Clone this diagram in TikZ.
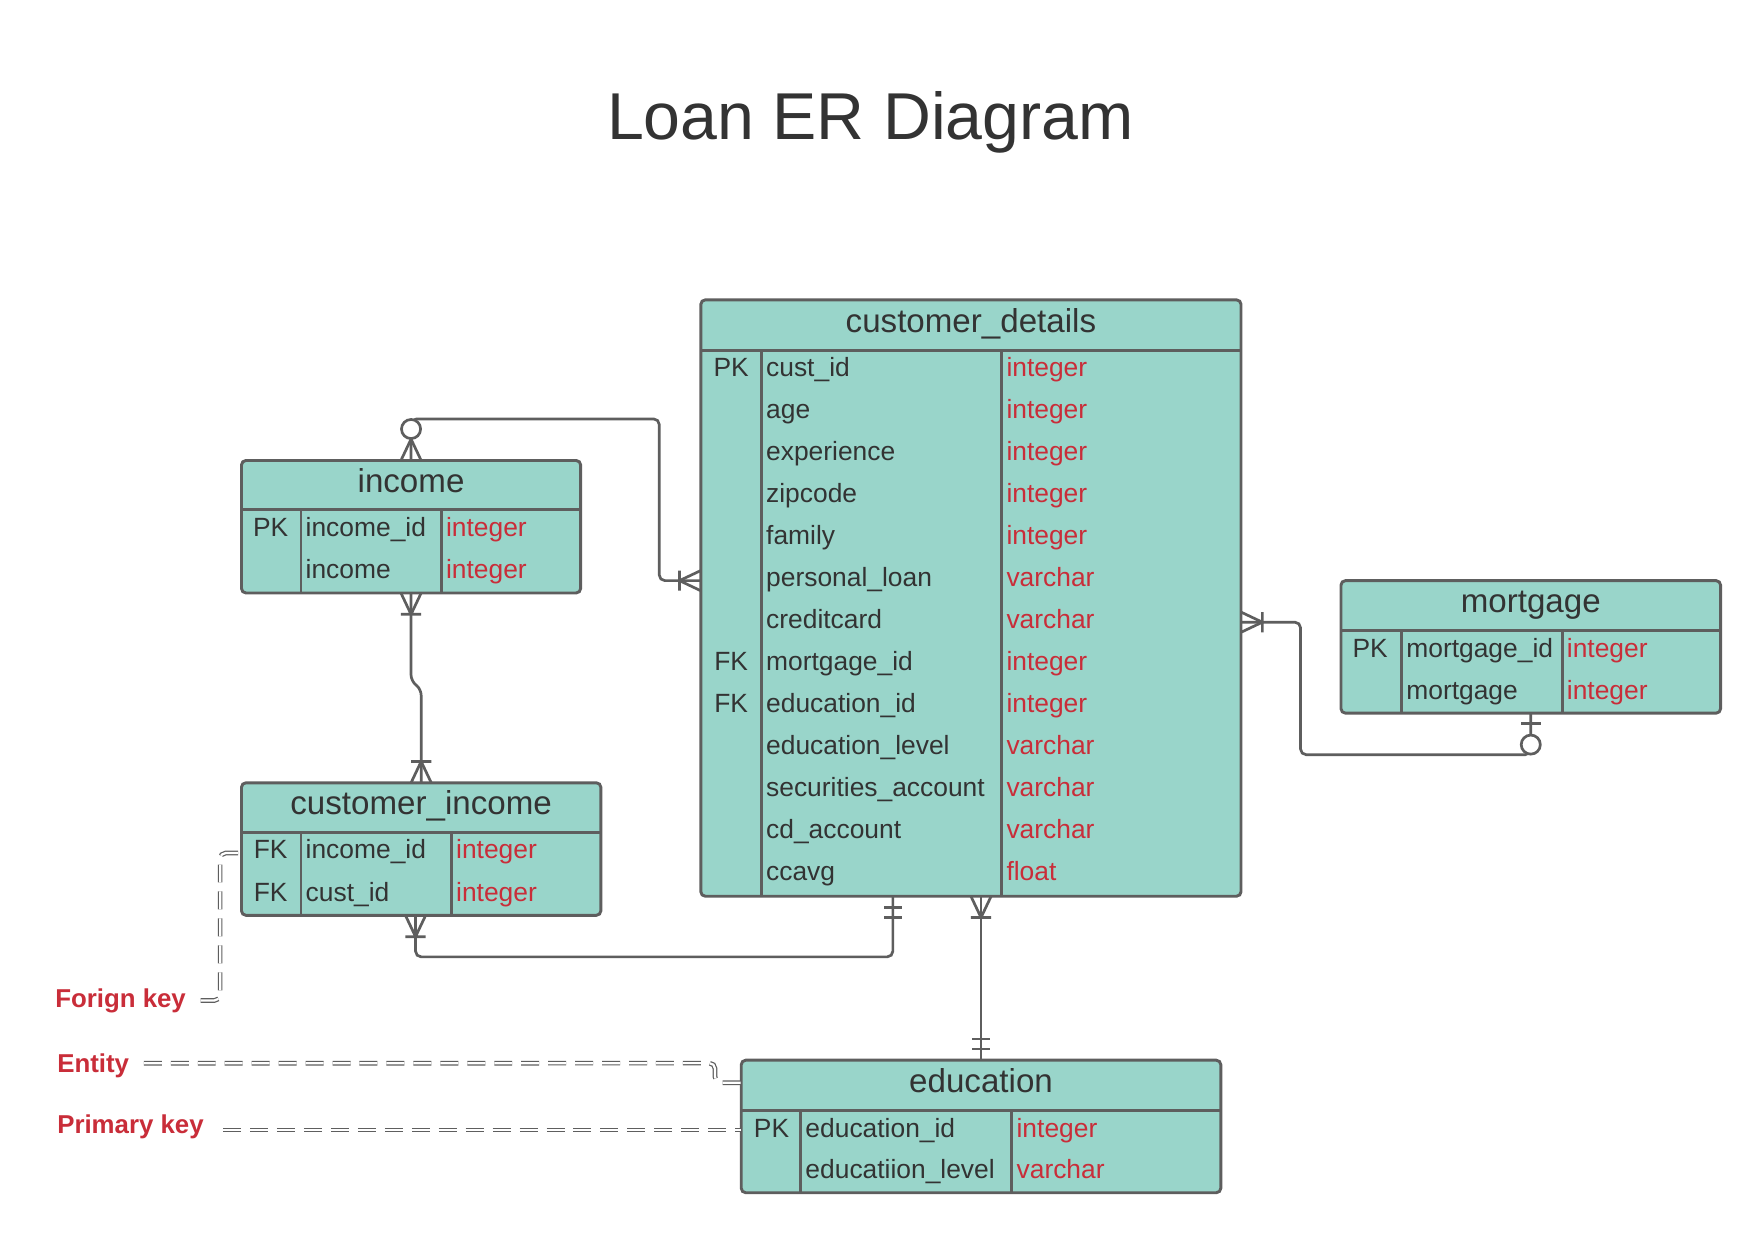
\documentclass[tikz,border=0pt]{standalone}
\usepackage{fontspec}
\setmainfont{Liberation Sans}
\usetikzlibrary{calc}

\definecolor{tealfill}{HTML}{99D5CA}
\definecolor{edgegray}{HTML}{5E5E5E}
\definecolor{typered}{HTML}{C92D39}
\definecolor{textgray}{HTML}{333333}

\begin{document}
\begin{tikzpicture}[x=1pt,y=-1pt,
  entity/.style={draw=edgegray,fill=tealfill,line width=2.6pt,rounded corners=4pt,
    anchor=north west,inner sep=0pt,outer sep=0pt},
  grid/.style={draw=edgegray,line width=2.6pt},
  head/.style={font=\fontsize{29.5}{30}\selectfont,text=textgray,anchor=base,inner sep=0pt},
  field/.style={font=\fontsize{23.5}{24}\selectfont,text=textgray,anchor=base west,inner sep=0pt},
  ftype/.style={field,text=typered},
  fkey/.style={font=\fontsize{23.5}{24}\selectfont,text=textgray,anchor=base,inner sep=0pt},
  note/.style={font=\bfseries\fontsize{23}{24}\selectfont,text=typered,anchor=base west,inner sep=0pt},
  link/.style={draw=edgegray,line width=2.4pt,rounded corners=5pt},
  pointer/.style={draw=edgegray,line width=1.1pt,double=white,double distance=2pt,
    dash pattern=on 16pt off 8pt,rounded corners=5pt},
  onemany/.pic={\draw[link,rounded corners=0pt] (0,-9) -- (19,0) -- (0,9) (19,-9) -- (19,9);},
  zeromany/.pic={\draw[link,rounded corners=0pt] (0,-9) -- (19,0) -- (0,9);
    \draw[link,fill=white] (28,0) circle[radius=8.5];},
  onlyone/.pic={\draw[link,rounded corners=0pt] (10,-8) -- (10,8) (19,-8) -- (19,8);},
  zeroone/.pic={\draw[link,rounded corners=0pt] (9,-9) -- (9,9);
    \draw[link,fill=white] (28,0) circle[radius=8.5];}
]
\fill[white] (0,0) rectangle (1568,1098.8);
\useasboundingbox (0,0) rectangle (1568,1098.8);

\node[font=\fontsize{59}{60}\selectfont,text=textgray,anchor=base,inner sep=0pt] (title) at (775,124) {Loan ER Diagram};

% entities
\node[entity,minimum width=481,minimum height=531] (cust) at (624,267) {};
\node[entity,minimum width=302,minimum height=118] (inc) at (215,410) {};
\node[entity,minimum width=320,minimum height=118] (cinc) at (215,697) {};
\node[entity,minimum width=338,minimum height=118] (mort) at (1194,517) {};
\node[entity,minimum width=427,minimum height=118] (edu) at (660,944) {};

\draw[grid] (624,312) -- (1105,312) (678,312) -- (678,798) (892,312) -- (892,798);
\draw[grid] (215,454) -- (517,454) (268,454) -- (268,528) (393,454) -- (393,528);
\draw[grid] (215,741) -- (535,741) (268,741) -- (268,815) (402,741) -- (402,815);
\draw[grid] (1194,561) -- (1532,561) (1248,561) -- (1248,635) (1391,561) -- (1391,635);
\draw[grid] (660,989) -- (1087,989) (713,989) -- (713,1062) (901,989) -- (901,1062);

\node[head] (cust-h) at (864.5,296.5) {customer\_details};
\node[head] (inc-h) at (366,438.5) {income};
\node[head] (cinc-h) at (375,725.5) {customer\_income};
\node[head] (mort-h) at (1363,545.5) {mortgage};
\node[head] (edu-h) at (873.5,972.5) {education};

\foreach \colname/\coltype [count=\i] in {cust\_id/integer,age/integer,experience/integer,
  zipcode/integer,family/integer,personal\_loan/varchar,creditcard/varchar,
  mortgage\_id/integer,education\_id/integer,education\_level/varchar,
  securities\_account/varchar,cd\_account/varchar,ccavg/float}
{
  \node[field] (cd-n\i) at (682,{335.5+37.4*(\i-1)}) {\colname};
  \node[ftype] (cd-t\i) at (896,{335.5+37.4*(\i-1)}) {\coltype};
}
\node[fkey] (cd-k1) at (651,335.5) {PK};
\node[fkey] (cd-k8) at (651,597.3) {FK};
\node[fkey] (cd-k9) at (651,634.7) {FK};

\node[fkey] (inc-k1) at (241,477.5) {PK};
\node[field] (inc-n1) at (272,477.5) {income\_id};
\node[ftype] (inc-t1) at (397,477.5) {integer};
\node[field] (inc-n2) at (272,515.5) {income};
\node[ftype] (inc-t2) at (397,515.5) {integer};

\node[fkey] (cinc-k1) at (241,764.5) {FK};
\node[field] (cinc-n1) at (272,764.5) {income\_id};
\node[ftype] (cinc-t1) at (406,764.5) {integer};
\node[fkey] (cinc-k2) at (241,802.5) {FK};
\node[field] (cinc-n2) at (272,802.5) {cust\_id};
\node[ftype] (cinc-t2) at (406,802.5) {integer};

\node[fkey] (mort-k1) at (1220,585.5) {PK};
\node[field] (mort-n1) at (1252,585.5) {mortgage\_id};
\node[ftype] (mort-t1) at (1395,585.5) {integer};
\node[field] (mort-n2) at (1252,622.5) {mortgage};
\node[ftype] (mort-t2) at (1395,622.5) {integer};

\node[fkey] (edu-k1) at (687,1012.5) {PK};
\node[field] (edu-n1) at (717,1012.5) {education\_id};
\node[ftype] (edu-t1) at (905,1012.5) {integer};
\node[field] (edu-n2) at (717,1049.5) {educatiion\_level};
\node[ftype] (edu-t2) at (905,1049.5) {varchar};

% relations
\coordinate (cust-in) at (624,517);
\coordinate (cust-r) at (1105,554);
\coordinate (cust-b1) at (795,798);
\coordinate (cust-b2) at (873.5,798);
\coordinate (cinc-b) at (370,815);
\coordinate (cinc-fk) at (215,759.5);
\coordinate (edu-e) at (660,964);

\draw[link] (inc.north) |- (587,373) |- (cust-in);
\draw[link] (inc.south) -- (366,606) -- (375,614) -- (cinc.north);
\draw[link] (cinc-b) -- (370,852) -| (cust-b1);
\draw[link] (cust-b2) -- (edu.north);
\draw[link] (cust-r) -| (1158,672) -| (mort.south);

\pic[rotate=90] at (inc.north) {zeromany};
\pic[rotate=180] at (cust-in) {onemany};
\pic[rotate=-90] at (inc.south) {onemany};
\pic[rotate=90] at (cinc.north) {onemany};
\pic[rotate=-90] at (cinc-b) {onemany};
\pic[rotate=-90] at (cust-b1) {onlyone};
\pic[rotate=-90] at (cust-b2) {onemany};
\pic[rotate=90] at (edu.north) {onlyone};
\pic at (cust-r) {onemany};
\pic[rotate=-90] at (mort.south) {zeroone};

% notes
\node[note] (fk-note) at (49,896.7) {Forign key};
\node[note] (ent-note) at (50.8,955) {Entity};
\node[note] (pk-note) at (50.8,1009) {Primary key};

\draw[pointer] ([xshift=13]fk-note.east) -- (196,890.8) |- (cinc-fk);
\draw[pointer] ([xshift=13,yshift=2.4]ent-note.east) -- (636.7,946.6) |- (edu-e);
\draw[pointer] ([xshift=17,yshift=-3]pk-note.east) -- ([yshift=-3]pk-note.east -| edu.west);

\end{tikzpicture}
\end{document}
